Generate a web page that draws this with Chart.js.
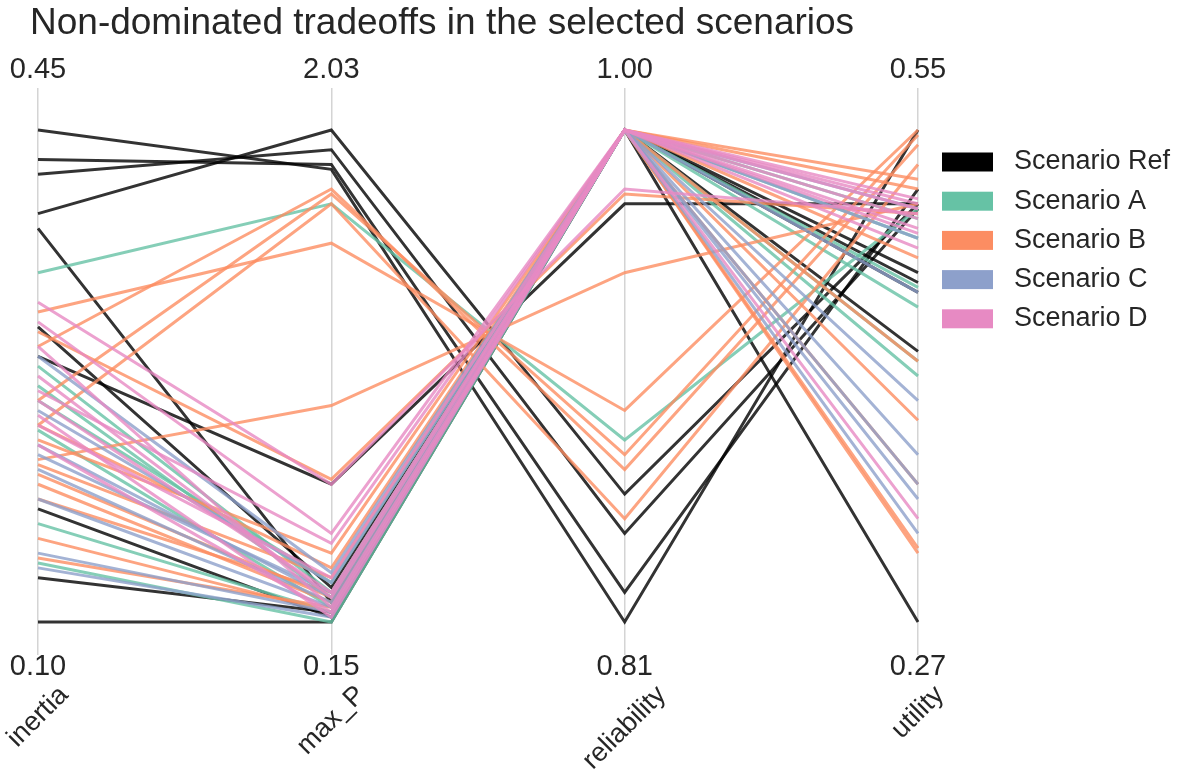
<!DOCTYPE html>
<html>
<head>
<meta charset="utf-8">
<script src="https://cdn.jsdelivr.net/npm/chart.js@4"></script>
<style>
  html, body { margin: 0; padding: 0; background: #fff; }
  #wrap { width: 1177px; height: 780px; }
</style>
</head>
<body>
<div id="wrap"><canvas id="chart" width="1177" height="780"></canvas></div>
<script>
// axes of the parallel plot
const axisNames = ['inertia', 'max_P', 'reliability', 'utility'];
const axisMax = ['0.45', '2.03', '1.00', '0.55'];
const axisMin = ['0.10', '0.15', '0.81', '0.27'];

// each row: position on [inertia, max_P, reliability, utility], scaled 0..1 between min and max
const scenarioRef = [
    [1.00, 0.92, 0.00, 1.00],
    [0.94, 0.93, 0.06, 0.88],
    [0.91, 0.96, 0.18, 0.84],
    [0.83, 1.00, 0.26, 0.85],
    [0.80, 0.04, 1.00, 0.71],
    [0.54, 0.28, 0.85, 0.85],
    [0.60, 0.07, 1.00, 0.55],
    [0.23, 0.01, 1.00, 0.67],
    [0.09, 0.02, 1.00, 0.00],
    [0.00, 0.00, 1.00, 0.69]
];
const scenarioA = [
    [0.71, 0.85, 0.37, 0.84],
    [0.52, 0.06, 1.00, 0.82],
    [0.48, 0.05, 1.00, 0.78],
    [0.45, 0.08, 1.00, 0.68],
    [0.39, 0.03, 1.00, 0.64],
    [0.20, 0.02, 1.00, 0.53],
    [0.12, 0.00, 1.00, 0.50]
];
const scenarioB = [
    [0.63, 0.77, 0.43, 1.00],
    [0.56, 0.88, 0.31, 0.97],
    [0.45, 0.87, 0.34, 0.99],
    [0.40, 0.85, 0.21, 0.93],
    [0.33, 0.44, 0.71, 0.85],
    [0.59, 0.29, 0.87, 0.83],
    [0.37, 0.14, 1.00, 0.90],
    [0.32, 0.09, 1.00, 0.88],
    [0.28, 0.04, 1.00, 0.74],
    [0.17, 0.02, 1.00, 0.41],
    [0.40, 0.11, 1.00, 0.14],
    [0.25, 0.06, 1.00, 0.15],
    [0.13, 0.03, 1.00, 0.28],
    [0.30, 0.05, 1.00, 0.53]
];
const scenarioC = [
    [0.54, 0.10, 1.00, 0.84],
    [0.43, 0.08, 1.00, 0.45],
    [0.36, 0.05, 1.00, 0.25],
    [0.34, 0.06, 1.00, 0.34],
    [0.31, 0.04, 1.00, 0.78],
    [0.25, 0.03, 1.00, 0.18],
    [0.14, 0.02, 1.00, 0.28],
    [0.11, 0.01, 1.00, 0.67]
];
const scenarioD = [
    [0.65, 0.28, 0.88, 0.83],
    [0.61, 0.18, 1.00, 0.86],
    [0.47, 0.16, 1.00, 0.85],
    [0.45, 0.06, 1.00, 0.79],
    [0.56, 0.03, 1.00, 0.76],
    [0.40, 0.09, 1.00, 0.21],
    [0.36, 0.02, 1.00, 0.82],
    [0.50, 0.05, 1.00, 0.80],
    [0.42, 0.01, 1.00, 0.84]
];

const scenarioNames = ['Scenario Ref', 'Scenario A', 'Scenario B', 'Scenario C', 'Scenario D'];
const scenarioColors = ['#000000', '#66c2a5', '#fc8d62', '#8da0cb', '#e78ac3'];
const scenarioRows = [scenarioRef, scenarioA, scenarioB, scenarioC, scenarioD];

const withAlpha = (hex, a) => {
    const n = parseInt(hex.slice(1), 16);
    return `rgba(${n >> 16}, ${(n >> 8) & 255}, ${n & 255}, ${a})`;
};

// Chart.js paints the first dataset last, so build D..Ref to keep Ref underneath
const datasets = [];
scenarioRows.forEach((rows, s) => rows.forEach(row => datasets.unshift({
    label: scenarioNames[s],
    data: row,
    borderColor: withAlpha(scenarioColors[s], 0.8),
    borderWidth: 3,
    pointRadius: 0,
    tension: 0,
    fill: false
})));

const textColor = '#262626';
const fontFamily = '"Liberation Sans", Arial, sans-serif';

// title, axis value labels, rotated axis names and the legend
const paraText = {
    id: 'paraText',
    afterDraw(chart) {
        const { ctx, chartArea } = chart;
        const x = chart.scales.x;
        ctx.save();
        ctx.fillStyle = textColor;

        ctx.font = `37px ${fontFamily}`;
        ctx.textAlign = 'left';
        ctx.textBaseline = 'alphabetic';
        ctx.fillText('Non-dominated tradeoffs in the selected scenarios', 30, 34);

        ctx.font = `29px ${fontFamily}`;
        ctx.textAlign = 'center';
        ctx.textBaseline = 'middle';
        axisNames.forEach((name, i) => {
            const px = x.getPixelForTick(i);
            ctx.fillText(axisMax[i], px, chartArea.top - 18);
            ctx.fillText(axisMin[i], px, chartArea.bottom + 12);
        });

        ctx.font = `27px ${fontFamily}`;
        axisNames.forEach((name, i) => {
            const px = x.getPixelForTick(i);
            const w = ctx.measureText(name).width;
            const boxH = (w + 22) * Math.SQRT1_2;
            ctx.save();
            ctx.translate(px, chartArea.bottom + 28 + boxH / 2);
            ctx.rotate(-Math.PI / 4);
            ctx.fillText(name, 0, 0);
            ctx.restore();
        });

        ctx.textAlign = 'left';
        scenarioNames.forEach((name, i) => {
            const cy = 162 + i * 39.2;
            ctx.fillStyle = scenarioColors[i];
            ctx.fillRect(942, cy - 9.5, 51, 19);
            ctx.fillStyle = textColor;
            ctx.fillText(name, 1014, cy);
        });
        ctx.restore();
    }
};

new Chart(document.getElementById('chart'), {
    type: 'line',
    data: { labels: axisNames, datasets },
    options: {
        responsive: false,
        animation: false,
        layout: { autoPadding: false, padding: { left: 38, right: 259, top: 88, bottom: 125 } },
        plugins: { legend: { display: false }, title: { display: false }, tooltip: { enabled: false } },
        scales: {
            x: {
                type: 'category',
                offset: false,
                ticks: { display: false },
                border: { display: false },
                grid: { color: '#d4d4d4', lineWidth: 1.5, drawTicks: false },
                afterFit: s => { s.height = 0; }
            },
            y: {
                display: false,
                min: -0.0671,
                max: 1.0854
            }
        }
    },
    plugins: [paraText]
});
</script>
</body>
</html>
